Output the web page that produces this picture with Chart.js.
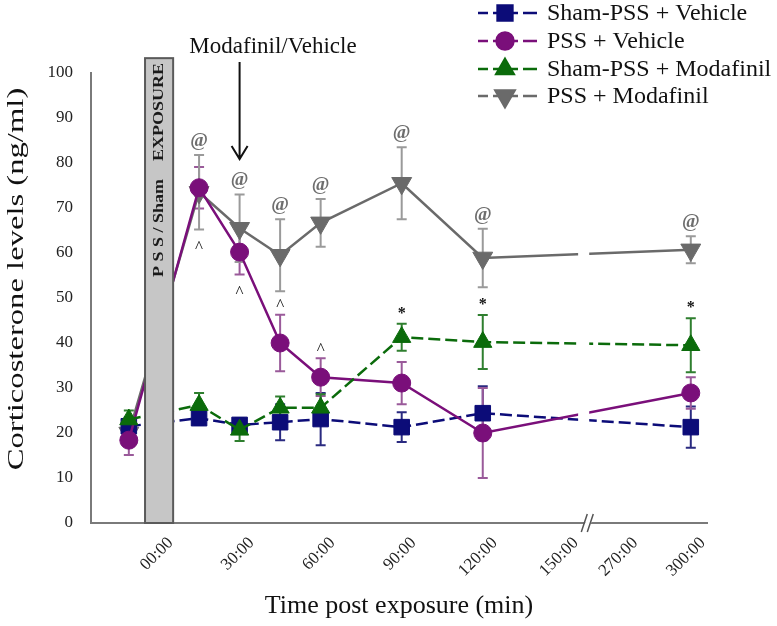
<!DOCTYPE html>
<html>
<head>
<meta charset="utf-8">
<script src="https://cdn.jsdelivr.net/npm/chart.js@4.4.1/dist/chart.umd.min.js"></script>
<style>
  body { margin: 0; background: #fff; }
  canvas { display: block; }
</style>
</head>
<body>
<canvas id="chart" width="777" height="626"></canvas>
<script>
// sample times in minutes (first one is the pre-exposure baseline)
let times = [-11, 15, 30, 45, 60, 90, 120, 300];
let xTickTimes = [0, 30, 60, 90, 120, 150, 270, 300];
let xTickLabels = ["00:00", "30:00", "60:00", "90:00", "120:00", "150:00", "270:00", "300:00"];

let seriesNames = ["Sham-PSS + Vehicle", "PSS + Vehicle", "Sham-PSS + Modafinil", "PSS + Modafinil"];

let shamVehicle = [21.5, 23.3, 21.8, 22.4, 23.1, 21.3, 24.4, 21.3];
let shamVehicleErr = [2, 1.5, 1.5, 4, 5.8, 3.3, 6, 4.6];
let pssVehicle = [18.4, 74.5, 60.2, 40.0, 32.4, 31.1, 20.0, 28.9];
let pssVehicleErr = [3.3, 4.6, 5, 6.3, 4.2, 4.7, 10, 3.5];
let shamModafinil = [23.0, 26.2, 20.7, 25.6, 25.6, 41.3, 40.2, 39.5];
let shamModafinilErr = [2, 2.7, 2.5, 2.5, 3, 3, 6, 6];
let pssModafinil = [20.0, 73.5, 65.5, 59.5, 66.7, 75.5, 58.9, 60.7];
let pssModafinilErr = [2, 8.3, 7.5, 8, 5.3, 8, 6.5, 3];

// significance marks: series index, time index, side of the error bar
let marks = [
  { text: "@", s: 3, i: 1, side: "above" },
  { text: "@", s: 3, i: 2, side: "above" },
  { text: "@", s: 3, i: 3, side: "above" },
  { text: "@", s: 3, i: 4, side: "above" },
  { text: "@", s: 3, i: 5, side: "above" },
  { text: "@", s: 3, i: 6, side: "above" },
  { text: "@", s: 3, i: 7, side: "above" },
  { text: "^", s: 3, i: 1, side: "below" },
  { text: "^", s: 1, i: 2, side: "below" },
  { text: "^", s: 1, i: 3, side: "above" },
  { text: "^", s: 1, i: 4, side: "above" },
  { text: "*", s: 2, i: 5, side: "above" },
  { text: "*", s: 2, i: 6, side: "above" },
  { text: "*", s: 2, i: 7, side: "above" }
];

let exposureStart = -5, exposureEnd = 5.4;
let drugTime = 30;

const SERIF = "'Liberation Serif', 'Times New Roman', serif";

// broken axis: 150 -> 270 squeezed together
function axisPos(t) {
  return t <= 150 ? t : 172 + (t - 270) * 25 / 30;
}

let styles = [
  { color: "#0c0c78", err: "#2a2a80", point: "rect", radius: 11, rot: 0, dash: [12, 5], order: 2 },
  { color: "#7a0f7a", err: "#9a5a9a", point: "circle", radius: 9, rot: 0, dash: [], order: 1 },
  { color: "#0b6b0b", err: "#2f7f2f", point: "triangle", radius: 10.5, rot: 0, dash: [12, 5], order: 0 },
  { color: "#6a6a6a", err: "#9a9a9a", point: "triangle", radius: 11.5, rot: 180, dash: [], order: 3 }
];
let values = [shamVehicle, pssVehicle, shamModafinil, pssModafinil];
let errors = [shamVehicleErr, pssVehicleErr, shamModafinilErr, pssModafinilErr];

let datasets = values.map((vals, k) => ({
  label: seriesNames[k],
  data: vals.map((v, j) => ({ x: axisPos(times[j]), y: v })),
  borderColor: styles[k].color,
  backgroundColor: styles[k].color,
  borderWidth: 2.5,
  borderDash: styles[k].dash,
  pointStyle: styles[k].point,
  pointRadius: styles[k].radius,
  pointRotation: styles[k].rot,
  pointBorderColor: styles[k].color,
  pointBackgroundColor: styles[k].color,
  pointBorderWidth: 1,
  order: styles[k].order,
  clip: false,
  tension: 0
}));

function capPixels(chart, k, j) {
  let x = chart.scales.x, y = chart.scales.y;
  return {
    px: x.getPixelForValue(axisPos(times[j])),
    top: y.getPixelForValue(values[k][j] + errors[k][j]),
    bot: y.getPixelForValue(values[k][j] - errors[k][j])
  };
}

const errorBars = {
  id: "errorBars",
  beforeDatasetsDraw(chart) {
    let ctx = chart.ctx;
    values.forEach((vals, k) => {
      ctx.save();
      ctx.strokeStyle = styles[k].err;
      ctx.lineWidth = 2;
      vals.forEach((v, j) => {
        let c = capPixels(chart, k, j);
        ctx.beginPath();
        ctx.moveTo(c.px, c.top); ctx.lineTo(c.px, c.bot);
        ctx.moveTo(c.px - 5, c.top); ctx.lineTo(c.px + 5, c.top);
        ctx.moveTo(c.px - 5, c.bot); ctx.lineTo(c.px + 5, c.bot);
        ctx.stroke();
      });
      ctx.restore();
    });
  }
};

const extras = {
  id: "extras",
  afterDatasetsDraw(chart) {
    let ctx = chart.ctx, x = chart.scales.x, y = chart.scales.y;
    let area = chart.chartArea;
    ctx.save();

    // y axis title (the source figure has stretched lettering)
    ctx.save();
    ctx.translate(17, 279);
    ctx.rotate(-Math.PI / 2);
    ctx.scale(1.36, 1);
    ctx.fillStyle = "#111";
    ctx.font = "24px " + SERIF;
    ctx.textAlign = "center";
    ctx.textBaseline = "middle";
    ctx.fillText("Corticosterone levels (ng/ml)", 0, 0);
    ctx.restore();

    // gap in the lines at the axis break
    let gx1 = x.getPixelForValue(155.3), gx2 = x.getPixelForValue(159.4);
    ctx.fillStyle = "#fff";
    ctx.fillRect(gx1, area.top, gx2 - gx1, area.bottom - area.top - 3);

    // break marks on the x axis
    let bx = x.getPixelForValue(159.8);
    ctx.fillStyle = "#fff";
    ctx.beginPath();
    ctx.moveTo(bx - 8, area.bottom + 8); ctx.lineTo(bx - 2, area.bottom - 9);
    ctx.lineTo(bx + 4, area.bottom - 9); ctx.lineTo(bx - 2, area.bottom + 8);
    ctx.closePath(); ctx.fill();
    ctx.strokeStyle = "#555"; ctx.lineWidth = 1.5;
    ctx.beginPath();
    ctx.moveTo(bx - 9, area.bottom + 9); ctx.lineTo(bx - 3, area.bottom - 9);
    ctx.moveTo(bx - 3, area.bottom + 9); ctx.lineTo(bx + 3, area.bottom - 9);
    ctx.stroke();

    // exposure bar
    let ex1 = x.getPixelForValue(exposureStart), ex2 = x.getPixelForValue(exposureEnd);
    let eTop = y.getPixelForValue(103.3);
    ctx.fillStyle = "#c6c6c6";
    ctx.fillRect(ex1, eTop, ex2 - ex1, area.bottom - eTop);
    ctx.strokeStyle = "#5a5a5a"; ctx.lineWidth = 2;
    ctx.strokeRect(ex1, eTop, ex2 - ex1, area.bottom - eTop);
    ctx.save();
    ctx.beginPath();
    ctx.rect(ex1, eTop + 2, ex2 - ex1, area.bottom - eTop);
    ctx.clip();
    ctx.translate((ex1 + ex2) / 2, 277);
    ctx.rotate(-Math.PI / 2);
    ctx.scale(1.2, 1);
    ctx.fillStyle = "#1a1a1a";
    ctx.font = "bold 15px " + SERIF;
    ctx.textAlign = "left";
    ctx.textBaseline = "middle";
    ctx.fillText("P S S / Sham    EXPOSURE", 0, 0);
    ctx.restore();

    // significance marks
    ctx.textAlign = "center";
    ctx.textBaseline = "middle";
    marks.forEach(m => {
      let c = capPixels(chart, m.s, m.i);
      if (m.text === "@") {
        ctx.font = "bold 19px " + SERIF;
        ctx.fillStyle = "#6e6e6e";
        ctx.fillText("@", c.px, c.top - 14);
      } else if (m.text === "^") {
        ctx.font = "17px " + SERIF;
        ctx.fillStyle = "#111";
        ctx.fillText("^", c.px, m.side === "above" ? c.top - 9 : c.bot + 18);
      } else {
        ctx.font = "bold 16px " + SERIF;
        ctx.fillStyle = "#111";
        ctx.fillText("*", c.px, c.top - 10);
      }
    });

    // drug arrow
    let ax = x.getPixelForValue(drugTime);
    ctx.strokeStyle = "#111"; ctx.lineWidth = 2;
    ctx.beginPath();
    ctx.moveTo(ax, 62); ctx.lineTo(ax, 159);
    ctx.moveTo(ax - 8, 146); ctx.lineTo(ax, 159); ctx.lineTo(ax + 8, 146);
    ctx.stroke();
    ctx.fillStyle = "#111";
    ctx.font = "23px " + SERIF;
    ctx.textAlign = "center";
    ctx.fillText("Modafinil/Vehicle", 273, 47);

    // legend
    let rows = [13, 41, 69, 96];
    seriesNames.forEach((name, k) => {
      let st = styles[k], ry = rows[k];
      ctx.strokeStyle = st.color; ctx.lineWidth = 2.5; ctx.setLineDash([]);
      ctx.beginPath(); ctx.moveTo(478, ry); ctx.lineTo(537, ry); ctx.stroke();
      ctx.fillStyle = "#fff";
      ctx.fillRect(488, ry - 3, 5, 6); ctx.fillRect(518, ry - 3, 5, 6);
      ctx.fillStyle = st.color;
      Chart.helpers.drawPoint(ctx, {
        pointStyle: st.point, rotation: st.rot, radius: st.radius - 0.5, borderWidth: 1
      }, 505, ry);
      ctx.fill();
      ctx.fillStyle = "#111";
      ctx.font = "24px " + SERIF;
      ctx.textAlign = "left";
      ctx.fillText(name, 547, ry + 1);
    });
    ctx.restore();
  }
};

new Chart(document.getElementById("chart"), {
  type: "line",
  data: { datasets: datasets },
  options: {
    responsive: false,
    animation: false,
    layout: { padding: { top: 73, right: 70, left: 0, bottom: 0 } },
    plugins: { legend: { display: false }, tooltip: { enabled: false } },
    scales: {
      x: {
        type: "linear",
        min: -25,
        max: 203,
        afterFit(scale) { scale.height = 103; },
        afterBuildTicks(scale) {
          scale.ticks = xTickTimes.map(t => ({ value: axisPos(t) }));
        },
        grid: { display: false, drawTicks: false },
        border: { display: true, color: "#7a7a7a", width: 2 },
        ticks: {
          autoSkip: false,
          minRotation: 45,
          maxRotation: 45,
          padding: 10,
          labelOffset: 12,
          color: "#222",
          font: { family: SERIF, size: 17 },
          callback: (v, i) => xTickLabels[i]
        },
        title: {
          display: true,
          text: "Time post exposure (min)",
          color: "#111",
          font: { family: SERIF, size: 26 },
          padding: { top: 0, bottom: 4 }
        }
      },
      y: {
        min: 0,
        max: 100,
        afterFit(scale) { scale.width = 91; },
        grid: { display: false, drawTicks: false },
        border: { display: true, color: "#7a7a7a", width: 2 },
        ticks: {
          stepSize: 10,
          padding: 18,
          color: "#222",
          font: { family: SERIF, size: 17 }
        },
        title: { display: false }
      }
    }
  },
  plugins: [errorBars, extras]
});
</script>
</body>
</html>
